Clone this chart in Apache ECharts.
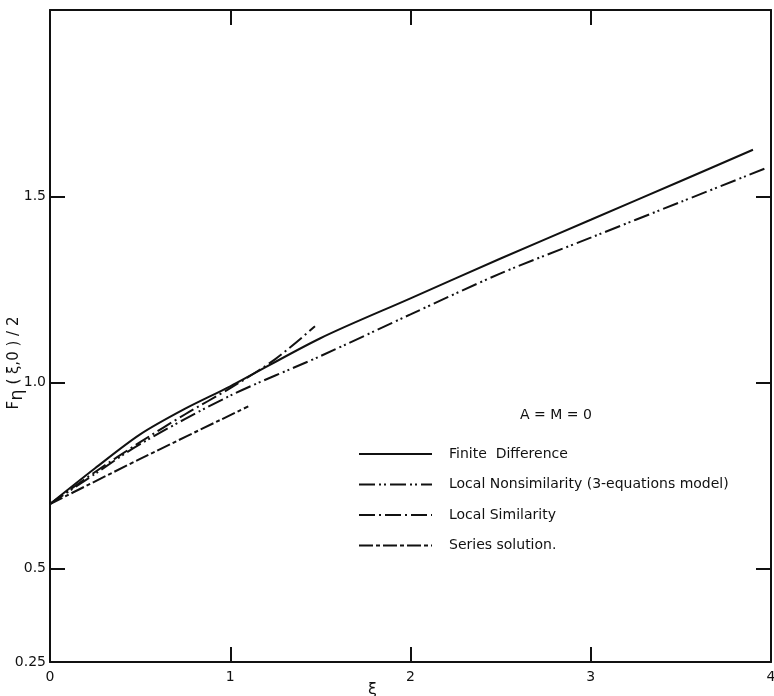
<!DOCTYPE html>
<html>
<head>
<meta charset="utf-8">
<script src="https://cdn.jsdelivr.net/npm/echarts@6/dist/echarts.min.js"></script>
<style>
html,body{margin:0;padding:0;background:#fff;}
#chart{width:774px;height:696px;}
</style>
</head>
<body>
<div id="chart"></div>
<script>
// ---- data ----
const seriesNames = ['Finite  Difference', 'Local Nonsimilarity (3-equations model)', 'Local Similarity', 'Series solution.'];

const fdX = [0, 0.25, 0.5, 0.75, 1.0, 1.5, 2.0, 2.5, 3.0, 3.5, 3.9];
const fdY = [0.674, 0.77, 0.861, 0.93, 0.99, 1.119, 1.226, 1.333, 1.437, 1.541, 1.625];

const lnsX = [0, 0.25, 0.5, 1.0, 1.5, 2.0, 2.5, 3.0, 3.5, 3.98];
const lnsY = [0.674, 0.755, 0.835, 0.965, 1.071, 1.183, 1.293, 1.389, 1.485, 1.577];

const lsX = [0, 0.25, 0.5, 0.75, 1.0, 1.25, 1.47];
const lsY = [0.674, 0.76, 0.84, 0.915, 0.985, 1.063, 1.151];

const ssX = [0, 0.5, 1.1];
const ssY = [0.674, 0.795, 0.936];

const xTickValues = [1, 2, 3];
const xLabelValues = [0, 1, 2, 3, 4];
const yTickValues = [0.5, 1.0, 1.5];
const yLabelValues = [0.25, 0.5, 1.0, 1.5];

// ---- chart ----
const pairs = (xs, ys) => xs.map((x, i) => [x, ys[i]]);
const FONT = 'DejaVu Sans';
const black = '#111';

const chart = echarts.init(document.getElementById('chart'));
const axisLineStyle = { color: black, width: 2 };

const option = {
  animation: false,
  backgroundColor: '#fff',
  textStyle: { fontFamily: FONT, color: black },
  grid: { left: 50, right: 3, top: 10, bottom: 34, containLabel: false, outerBoundsMode: 'none' },
  legend: {
    orient: 'vertical',
    left: 358,
    top: 447,
    padding: 0,
    itemWidth: 73,
    itemHeight: 14,
    itemGap: 16.5,
    itemStyle: { opacity: 0 },
    textStyle: { fontFamily: FONT, fontSize: 14, color: black, padding: [0, 0, 0, 12] },
    data: seriesNames
  },
  graphic: [
    { type: 'text', left: 520, top: 408, style: { text: 'A = M = 0', font: '14px "DejaVu Sans"', fill: black } }
  ],
  xAxis: [
    {
      type: 'value', min: 0, max: 4, position: 'bottom',
      name: 'ξ', nameLocation: 'start', nameGap: 0, nameMoveOverlap: false,
      nameTextStyle: { fontFamily: FONT, fontSize: 16, color: black, align: 'left', verticalAlign: 'top', padding: [20, 0, 0, 318] },
      axisLine: { show: true, onZero: false, lineStyle: axisLineStyle },
      splitLine: { show: false },
      axisTick: { show: true, inside: true, length: 15, lineStyle: axisLineStyle, customValues: xTickValues },
      axisLabel: { show: true, customValues: xLabelValues, margin: 8, fontFamily: FONT, fontSize: 14, color: black,
        formatter: v => String(v) }
    },
    {
      type: 'value', min: 0, max: 4, position: 'top',
      axisLine: { show: true, onZero: false, lineStyle: axisLineStyle },
      splitLine: { show: false },
      axisTick: { show: true, inside: true, length: 15, lineStyle: axisLineStyle, customValues: xTickValues },
      axisLabel: { show: false }
    }
  ],
  yAxis: [
    {
      type: 'value', min: 0.25, max: 2.0, position: 'left',
      name: '{a|F}{b|η}{a| ( ξ,0 ) / 2}', nameLocation: 'middle', nameGap: 24, nameRotate: 90, nameMoveOverlap: false,
      nameTextStyle: {
        padding: [0, 54, 0, 0],
        rich: {
          a: { fontFamily: FONT, fontSize: 15, color: black },
          b: { fontFamily: FONT, fontSize: 18, color: black, padding: [6, 0, 0, 0] }
        }
      },
      axisLine: { show: true, onZero: false, lineStyle: axisLineStyle },
      splitLine: { show: false },
      axisTick: { show: true, inside: true, length: 15, lineStyle: axisLineStyle, customValues: yTickValues },
      axisLabel: { show: true, customValues: yLabelValues, margin: 4, fontFamily: FONT, fontSize: 14, color: black,
        formatter: v => (Math.abs(v - 0.25) < 1e-9 ? '0.25' : v.toFixed(1)) }
    },
    {
      type: 'value', min: 0.25, max: 2.0, position: 'right',
      axisLine: { show: true, onZero: false, lineStyle: axisLineStyle },
      splitLine: { show: false },
      axisTick: { show: true, inside: true, length: 15, lineStyle: axisLineStyle, customValues: yTickValues },
      axisLabel: { show: false }
    }
  ],
  series: [
    { name: seriesNames[0], type: 'line', data: pairs(fdX, fdY), smooth: 0.3, symbol: 'none',
      lineStyle: { color: black, width: 2, type: 'solid' }, itemStyle: { color: black } },
    { name: seriesNames[1], type: 'line', data: pairs(lnsX, lnsY), smooth: 0.3, symbol: 'none',
      lineStyle: { color: black, width: 2, type: [16, 4, 2, 3, 2, 4] }, itemStyle: { color: black } },
    { name: seriesNames[2], type: 'line', data: pairs(lsX, lsY), smooth: 0.3, symbol: 'none',
      lineStyle: { color: black, width: 2, type: [16, 4, 2, 4] }, itemStyle: { color: black } },
    { name: seriesNames[3], type: 'line', data: pairs(ssX, ssY), smooth: 0.3, symbol: 'none',
      lineStyle: { color: black, width: 2, type: [14, 3, 4, 3] }, itemStyle: { color: black } }
  ]
};
chart.setOption(option);
</script>
</body>
</html>
